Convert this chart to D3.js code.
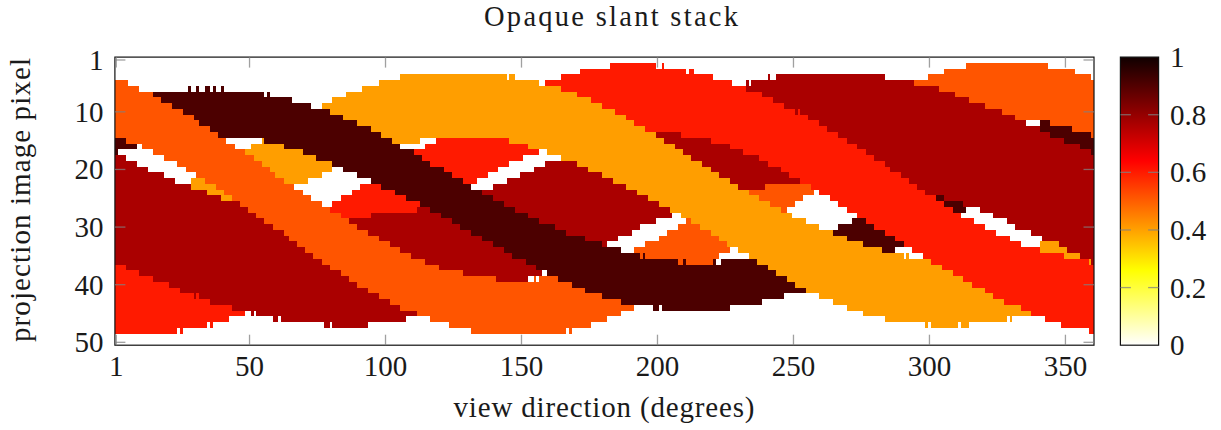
<!DOCTYPE html>
<html><head><meta charset="utf-8">
<style>html,body{margin:0;padding:0;background:#fff}svg{display:block}text{font-family:"Liberation Serif",serif;fill:#1a1a1a}</style>
<script src="https://cdn.jsdelivr.net/npm/d3@7"></script></head><body>
<script>
const title = "Opaque slant stack";
const xLabel = "view direction (degrees)";
const yLabel = "projection image pixel";
const xTicks = [1,50,100,150,200,250,300,350];
const yTicks = [1,10,20,30,40,50];
const cbTicks = [0,0.2,0.4,0.6,0.8,1];
// pixel levels
const w=0,o=0.404,b=0.513,r=0.601,d=0.768,k=0.91;
// run-length rows: column edge, value, column edge, value ...
const rows = [
[0,w],
[0,w,182,r,199,w,201,r,202,w,313,b,343,w],
[0,w,171,r,210,w,211,r,213,w,305,b,353,w],
[0,w,105,o,144,w,145,o,147,w,164,r,220,w,240,d,241,w,243,d,283,w,299,b,359,w],
[0,b,5,w,97,o,156,w,158,r,227,w,232,d,233,w,234,d,294,b],
[0,b,9,w,27,k,28,w,30,k,31,w,33,k,35,w,36,k,37,w,39,k,40,w,91,o,164,r,232,d,303,b],
[0,b,14,k,55,w,56,k,57,w,85,o,170,r,238,d,309,b],
[0,b,17,k,65,w,80,o,175,r,242,d,314,b],
[0,b,21,k,72,w,76,o,179,r,246,d,320,b],
[0,b,25,k,79,o,184,r,250,d,251,r,252,d,326,b],
[0,b,29,k,84,o,188,r,255,d,331,b],
[0,b,31,k,89,o,191,r,259,d,335,w,340,k,344,b],
[0,b,35,k,94,o,195,r,262,d,340,k,352,b],
[0,b,38,k,98,o,199,d,208,r,266,d,344,k,359,b],
[0,k,4,b,41,w,54,o,55,k,102,o,112,w,118,r,145,o,202,d,219,r,269,d,349,k],
[0,k,8,w,10,b,44,w,50,o,62,k,105,w,114,r,152,o,206,d,226,r,273,d,355,k],
[0,k,1,w,14,b,48,o,69,k,110,r,156,w,159,o,209,d,231,r,276,d,359,k],
[0,d,4,w,18,b,51,o,74,k,113,r,150,w,164,o,212,d,237,r,279,d],
[0,d,8,w,23,b,54,o,80,k,116,r,145,w,158,d,170,o,216,d,240,r,283,d],
[0,d,12,w,26,b,57,o,80,w,84,k,121,r,141,w,154,d,174,o,219,d,245,r,285,d],
[0,d,18,w,30,b,59,o,76,w,89,k,124,r,137,w,149,d,179,o,222,d,248,r,289,d],
[0,d,22,w,28,o,33,b,62,o,71,w,94,k,128,r,133,w,144,d,183,o,226,d,252,r,292,d],
[0,d,28,o,37,b,66,w,90,r,98,k,131,w,139,d,188,o,229,d,239,b,256,r,295,d],
[0,d,34,o,40,b,69,w,87,r,103,k,135,d,192,o,233,b,257,w,259,r,298,d],
[0,d,39,o,43,b,72,w,83,r,107,k,139,d,196,o,237,b,253,w,263,r,302,k,305,d],
[0,d,46,b,76,w,80,r,112,k,143,d,200,o,241,b,250,w,266,r,305,k,312,d],
[0,d,49,b,79,r,111,d,116,k,147,d,204,o,245,b,247,w,269,r,308,k,313,w,318,d],
[0,d,52,b,83,r,94,d,120,k,152,d,205,w,208,o,249,w,273,r,311,w,323,d],
[0,d,55,b,86,d,124,k,156,d,199,w,210,b,212,o,254,w,271,k,276,r,316,w,328,d],
[0,d,58,b,89,d,127,k,162,d,193,w,207,b,215,o,259,w,266,k,279,r,320,w,331,d],
[0,d,62,b,93,d,131,k,166,d,190,w,203,b,219,o,264,k,283,r,324,w,337,d],
[0,d,64,b,97,d,135,k,173,d,185,w,200,b,222,o,269,k,287,r,329,w,341,d],
[0,d,67,b,101,d,139,k,179,d,181,w,195,b,225,o,275,k,290,r,333,w,340,o,347,d],
[0,d,70,b,105,d,143,k,186,w,191,b,226,w,229,o,282,k,287,w,293,r,340,o,350,d],
[0,d,73,b,109,d,146,k,193,b,194,k,195,b,222,w,233,o,290,w,291,o,292,w,297,r,349,o,355,d],
[0,d,76,b,114,d,151,k,207,b,209,k,210,b,220,k,221,w,223,k,236,o,300,r,358,o,359,d],
[0,r,4,d,79,b,119,d,155,k,240,o,304,r],
[0,r,9,d,83,b,128,d,157,w,159,k,243,o,308,r],
[0,r,14,d,86,b,140,d,152,w,154,b,155,w,156,b,163,k,247,o,312,r],
[0,r,20,d,89,b,168,k,250,o,315,r],
[0,r,24,d,93,b,173,k,254,o,320,r],
[0,r,29,d,30,r,31,d,97,b,179,k,246,w,259,o,323,r],
[0,r,35,d,101,b,186,k,238,w,264,o,327,r],
[0,r,43,d,105,b,191,w,198,k,200,w,201,k,226,w,269,o,333,r],
[0,r,48,w,50,d,51,w,52,d,111,b,186,w,275,o,337,r],
[0,r,42,w,58,d,60,w,61,d,107,w,116,b,181,w,283,o,328,w,329,o,330,w,342,r],
[0,r,34,w,35,r,36,w,77,d,79,w,80,d,93,w,123,b,175,w,298,o,299,w,300,o,310,w,311,o,314,w,348,r],
[0,r,23,w,24,r,25,w,131,b,166,w,167,b,168,w,358,r],
[0,w],
[0,w]
];
const cmapStops = [0,0.26,0.64,1];
const cmapColors = ["#ffffff","#ffff00","#ff0000","#100000"];

const W=1221,H=430;
const L=114.9,R=1094,T=57.1,B=345.2,CL=1120.4,CR=1158.6;
const FS=29;
const svg=d3.select("body").append("svg").attr("width",W).attr("height",H);
const x=d3.scaleLinear().domain([0.5,360.5]).range([L,R]);
const y=d3.scaleLinear().domain([0.5,50.5]).range([T,B]);
const color=d3.scaleLinear().domain(cmapStops).range(cmapColors).interpolate(d3.interpolateRgb);
const cy=d3.scaleLinear().domain([0,1]).range([B,T]);

const cells=[];
rows.forEach((row,i)=>{
  for(let j=0;j<row.length;j+=2){
    const end=j+2<row.length?row[j+2]:360;
    if(row[j+1]>0) cells.push({row:i+1,from:row[j],to:end,v:row[j+1]});
  }
});
svg.append("g").attr("shape-rendering","crispEdges").selectAll("rect").data(cells).join("rect")
  .attr("x",c=>x(c.from+0.5)).attr("width",c=>x(c.to+0.5)-x(c.from+0.5))
  .attr("y",c=>y(c.row-0.5)).attr("height",c=>y(c.row+0.5)-y(c.row-0.5))
  .attr("fill",c=>color(c.v));

const tickCol="rgba(128,128,128,0.75)",TL=10.5,TW=1.3;
const g=svg.append("g").attr("stroke",tickCol).attr("stroke-width",TW);
xTicks.forEach(t=>{
  g.append("line").attr("x1",x(t)).attr("x2",x(t)).attr("y1",T).attr("y2",T+TL);
  g.append("line").attr("x1",x(t)).attr("x2",x(t)).attr("y1",B).attr("y2",B-TL);
});
yTicks.forEach(t=>{
  g.append("line").attr("y1",y(t)).attr("y2",y(t)).attr("x1",L).attr("x2",L+TL);
  g.append("line").attr("y1",y(t)).attr("y2",y(t)).attr("x1",R).attr("x2",R-TL);
});
svg.append("rect").attr("x",L).attr("y",T).attr("width",R-L).attr("height",B-T)
  .attr("fill","none").attr("stroke","#111").attr("stroke-width",1.2);

// colour bar
const defs=svg.append("defs");
const grad=defs.append("linearGradient").attr("id","cb").attr("x1",0).attr("x2",0).attr("y1",1).attr("y2",0);
grad.selectAll("stop").data(cmapStops).join("stop")
  .attr("offset",s=>s).attr("stop-color",s=>color(s));
svg.append("rect").attr("x",CL).attr("y",T).attr("width",CR-CL).attr("height",B-T)
  .attr("fill","url(#cb)").attr("stroke","#111").attr("stroke-width",1.2);
cbTicks.filter(t=>t>0&&t<1).forEach(t=>{
  g.append("line").attr("y1",cy(t)).attr("y2",cy(t)).attr("x1",CL).attr("x2",CL+TL);
  g.append("line").attr("y1",cy(t)).attr("y2",cy(t)).attr("x1",CR).attr("x2",CR-TL);
});
svg.node().appendChild(g.node());

const txt=(s,px,py,anchor,size=FS)=>svg.append("text").text(s).attr("x",px).attr("y",py)
  .attr("text-anchor",anchor).attr("font-size",size);
txt(title,611,25.5,"middle",28.5).attr("textLength",254);
txt(xLabel,604,417,"middle").attr("textLength",301);
svg.append("text").text(yLabel).attr("font-size",FS).attr("text-anchor","middle").attr("textLength",284)
  .attr("transform","translate(29.5,200) rotate(-90)");
xTicks.forEach(t=>txt(t,x(t),375.5,"middle"));
yTicks.forEach(t=>txt(t,103.5,y(t)+10,"end"));
cbTicks.forEach(t=>txt(t,1170,cy(t)+10,"start"));
</script></body></html>
